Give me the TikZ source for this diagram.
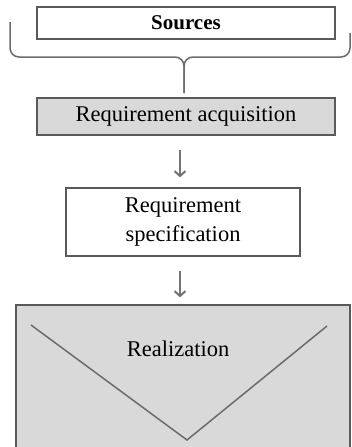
\documentclass[tikz,border=0pt]{standalone}
\usepackage{fontspec}
\setmainfont{Liberation Serif}
\usepackage{xcolor}
\usepackage{tikz}
\usetikzlibrary{arrows.meta,shadows}
\definecolor{boxline}{HTML}{5A5A5A}
\definecolor{boxfill}{HTML}{D9D9D9}
\definecolor{arrowgray}{HTML}{737373}
\tikzstyle{block} = [rectangle, draw = boxline, line width = 1.2pt, fill = white, text centered, drop shadow = {opacity = 0.25, shadow xshift = 0.8pt, shadow yshift = -1.2pt}, font = \fontsize{22.5}{29}\selectfont]
\tikzstyle{grayblock} = [block, fill = boxfill]
\tikzstyle{line} = [line width = 2pt, arrowgray, -{Straight Barb[length = 5pt, width = 11pt, line width = 2pt]}]
\tikzstyle{brace} = [line width = 1.5pt, boxline!90, rounded corners = 9pt]

\begin{document}
\begin{tikzpicture}[node distance = 1cm]
        \useasboundingbox (0pt,0pt) rectangle (351pt,-447pt);
        \clip (0pt,0pt) rectangle (351pt,-447pt);
        \node (src) [block, minimum width = 298pt, minimum height = 32pt, font = \fontsize{21}{25}\selectfont\bfseries] at (186pt,-23pt) {Sources};
        \node (acq) [grayblock, minimum width = 298pt, minimum height = 37pt, below of = src, node distance = 93.5pt] {Requirement acquisition};
        \node (spec) [block, minimum width = 234pt, minimum height = 68pt, align = center, below of = acq, node distance = 105.5pt, xshift = -3pt] {Requirement\\specification};
        \node (real) [grayblock, minimum width = 334pt, minimum height = 165pt, below of = spec, node distance = 165.5pt] {};
        \node (realtxt) [font = \fontsize{22.5}{29}\selectfont, below of = spec, node distance = 127pt, xshift = -5pt] {Realization};
        % brace under the sources
        \coordinate (tip) at (184pt,-93pt);
        \draw[brace] (10pt,-22pt) -- (10pt,-57pt) -- (184pt,-57pt) -- (tip);
        \draw[brace] (tip) -- (184pt,-57pt) -- (350pt,-57pt) -- (350pt,-33pt);
        \draw[line] (spec.north |- acq.south) ++(-3pt,-14pt) -- ([xshift = -3pt, yshift = 10pt]spec.north);
        \draw[line] ([xshift = -3pt, yshift = -14pt]spec.south) -- ([xshift = -3pt, yshift = 7pt]real.north);
        % the V inside the realization box
        \coordinate (vleft) at (31pt,-325pt);
        \coordinate (vbottom) at (187pt,-440pt);
        \coordinate (vright) at (327pt,-326pt);
        \draw[line width = 1.5pt, boxline!90] (vleft) -- (vbottom) -- (vright);
    \end{tikzpicture}
\end{document}
